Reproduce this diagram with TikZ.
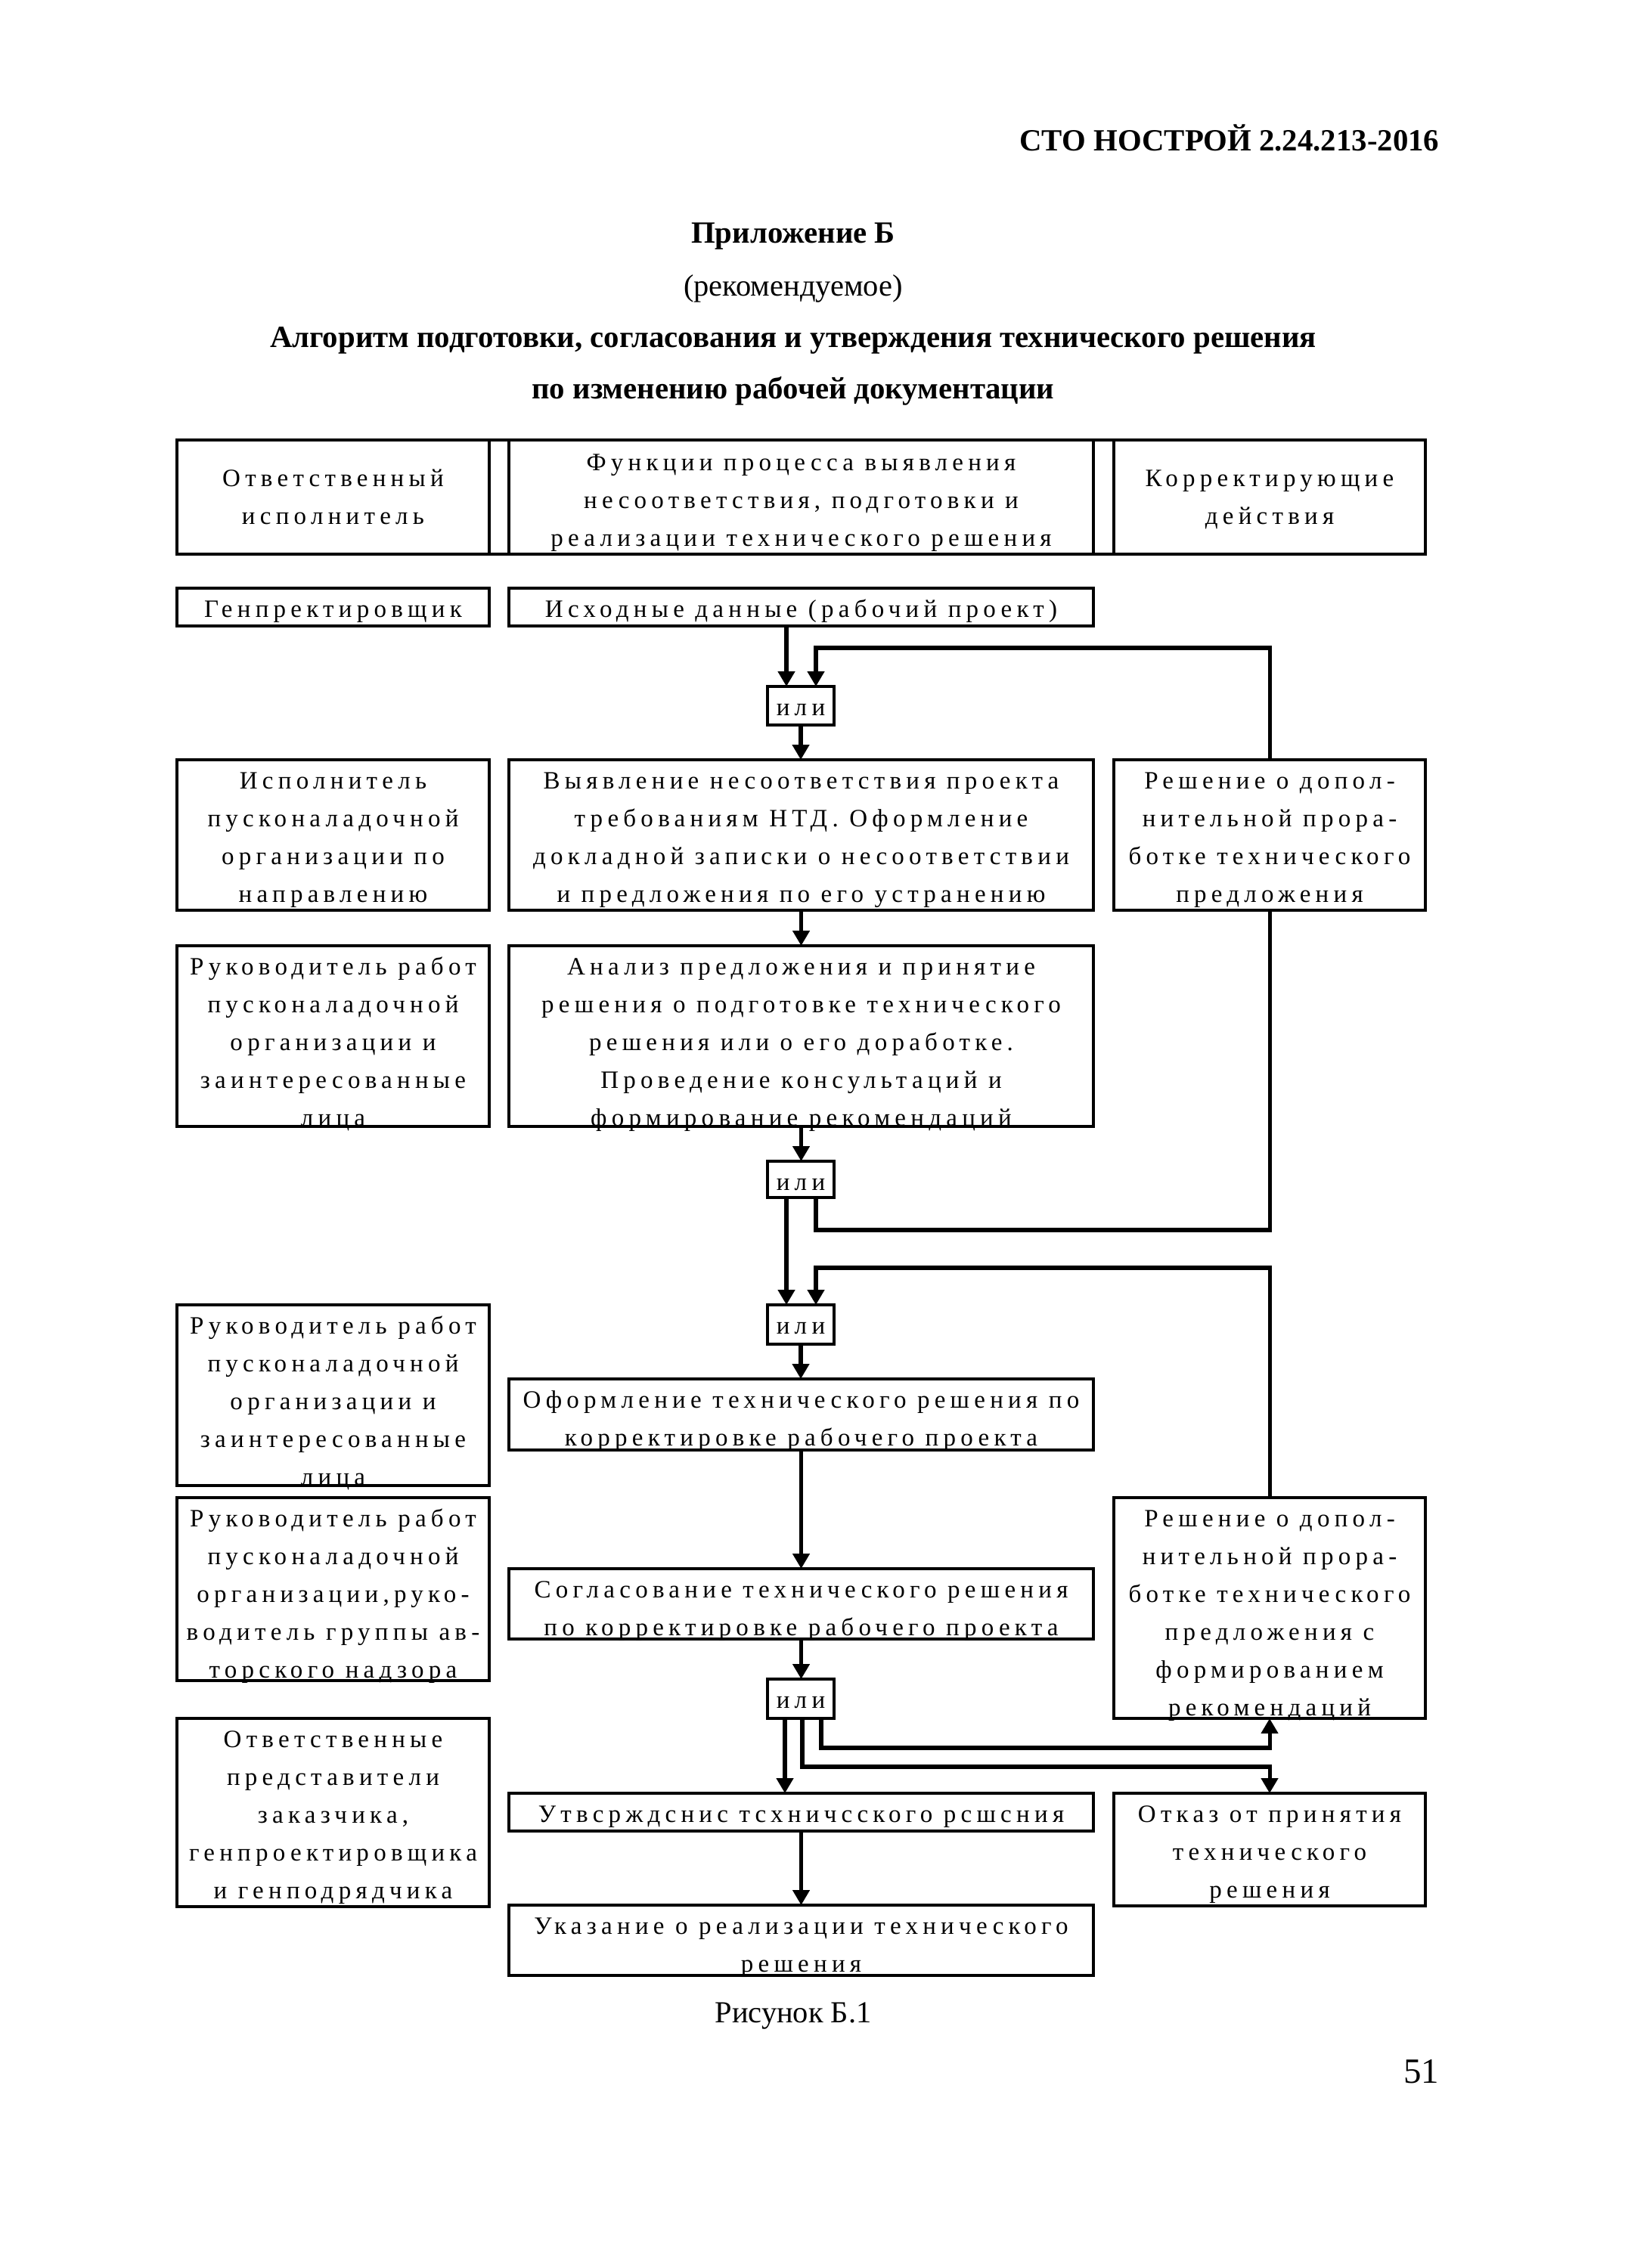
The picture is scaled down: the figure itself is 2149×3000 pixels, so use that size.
\documentclass[tikz,border=0pt]{standalone}
\usepackage{fontspec}
\setmainfont{Liberation Serif}
\newfontfamily\bxfont[LetterSpace=19]{Liberation Serif}
\usetikzlibrary{arrows.meta}
\newcommand\mkbox[5]{\node[bx, minimum width={(#4-#2)*0.277pt}, minimum height={(#5-#3)*0.277pt}] (#1) at ({(#2+#4)/2},{(#3+#5)/2}) {};}
\newcommand\mktext[3][38]{\node[btxt] at ([yshift={-(#1-26.4)*0.277pt}]#2.north) {\rule{0pt}{7.31pt}#3};}
\begin{document}
\begin{tikzpicture}[x=0.277pt,y=-0.277pt,
  bx/.style={draw,line width=0.9pt,inner sep=0pt,outer sep=0pt,rectangle},
  btxt/.style={inner sep=0pt,align=center,anchor=north,font=\bxfont\fontsize{9.14pt}{13.85pt}\selectfont},
  conn/.style={line width=1.4pt,line join=miter},
  arr/.style={conn,-{Triangle[length=5.5pt,width=6pt]}},
  ttl/.style={inner sep=0pt,anchor=base,font=\bfseries\fontsize{11.3pt}{13pt}\selectfont},
  rtl/.style={inner sep=0pt,anchor=base,font=\fontsize{11.2pt}{13pt}\selectfont}
]
\useasboundingbox (0,0) rectangle (2149,3000);
\fill[white] (0,0) rectangle (2149,3000);

% titles
\node[ttl,anchor=base east] (code) at (1904,200) {СТО НОСТРОЙ 2.24.213-2016};
\node[ttl] (app) at (1049,322) {Приложение Б};
\node[rtl] (rec) at (1049,392) {(рекомендуемое)};
\node[ttl] (t1) at (1049,460) {Алгоритм подготовки, согласования и утверждения технического решения};
\node[ttl] (t2) at (1049,528) {по изменению рабочей документации};
\node[rtl] (fig) at (1049,2675) {Рисунок Б.1};
\node[rtl,anchor=base east,font=\fontsize{13pt}{15pt}\selectfont] (pg) at (1904,2755) {51};

% boxes
\mkbox{hL}{234}{582}{647}{733}
\mkbox{hSa}{647}{582}{673}{733}
\mkbox{hM}{673}{582}{1446}{733}
\mkbox{hSb}{1446}{582}{1473}{733}
\mkbox{hR}{1473}{582}{1885}{733}
\mkbox{r0L}{234}{778}{647}{828}
\mkbox{r0M}{673}{778}{1446}{828}
\mkbox{ili1}{1015}{908}{1103}{959}
\mkbox{r1L}{234}{1005}{647}{1204}
\mkbox{r1M}{673}{1005}{1446}{1204}
\mkbox{r1R}{1473}{1005}{1885}{1204}
\mkbox{r2L}{234}{1251}{647}{1490}
\mkbox{r2M}{673}{1251}{1446}{1490}
\mkbox{ili2}{1015}{1536}{1103}{1584}
\mkbox{ili3}{1015}{1726}{1103}{1778}
\mkbox{r3L}{234}{1726}{647}{1965}
\mkbox{r3M}{673}{1824}{1446}{1918}
\mkbox{r4L}{234}{1981}{647}{2223}
\mkbox{r4M}{673}{2075}{1446}{2168}
\mkbox{r4R}{1473}{1981}{1885}{2273}
\mkbox{ili4}{1015}{2221}{1103}{2273}
\mkbox{r5L}{234}{2273}{647}{2522}
\mkbox{r5M}{673}{2372}{1446}{2422}
\mkbox{r5R}{1473}{2372}{1885}{2521}
\mkbox{r6M}{673}{2520}{1446}{2613}

% texts
\mktext[61]{hL}{Ответственный\\исполнитель}
\mktext[40]{hM}{Функции процесса выявления\\несоответствия, подготовки и\\реализации технического решения}
\mktext[61]{hR}{Корректирующие\\действия}
\mktext{r0L}{Генпректировщик}
\mktext{r0M}{Исходные данные (рабочий проект)}
\mktext{ili1}{или}
\mktext{r1L}{Исполнитель\\пусконаладочной\\организации по\\направлению}
\mktext{r1M}{Выявление несоответствия проекта\\требованиям НТД. Оформление\\докладной записки о несоответствии\\и предложения по его устранению}
\mktext{r1R}{Решение о допол-\\нительной прора-\\ботке технического\\предложения}
\mktext{r2L}{Руководитель работ\\пусконаладочной\\организации и\\заинтересованные\\лица}
\mktext{r2M}{Анализ предложения и принятие\\решения о подготовке технического\\решения или о его доработке.\\Проведение консультаций и\\формирование рекомендаций}
\mktext{ili2}{или}
\mktext{ili3}{или}
\mktext{r3L}{Руководитель работ\\пусконаладочной\\организации и\\заинтересованные\\лица}
\mktext{r3M}{Оформление технического решения по\\корректировке рабочего проекта}
\mktext{r4L}{Руководитель работ\\пусконаладочной\\организации,руко-\\водитель группы ав-\\торского надзора}
\mktext{r4M}{Согласование технического решения\\по корректировке рабочего проекта}
\mktext{r4R}{Решение о допол-\\нительной прора-\\ботке технического\\предложения с\\формированием\\рекомендаций}
\mktext{ili4}{или}
\mktext{r5L}{Ответственные\\представители\\заказчика,\\генпроектировщика\\и генподрядчика}
\mktext{r5M}{Утвсрждснис тсхничсского рсшсния}
\mktext{r5R}{Отказ от принятия\\технического\\решения}
\mktext{r6M}{Указание о реализации технического\\решения}

% helper coordinates
\coordinate (xL) at (1040,0);
\coordinate (xR) at (1079,0);
\coordinate (xa) at (1038,0);
\coordinate (xb) at (1061,0);
\coordinate (xc) at (1086,0);
\coordinate (yA) at (0,857);
\coordinate (yB) at (0,1627);
\coordinate (yC) at (0,1677);
\coordinate (yD) at (0,2312);
\coordinate (yE) at (0,2337);

% connectors
\draw[arr] (r0M.south -| xL) -- (ili1.north -| xL);
\draw[arr] (r1R.north) -- (r1R.north |- yA) -- (xR |- yA) -- (ili1.north -| xR);
\draw[arr] (ili1.south) -- (ili1.south |- r1M.north);
\draw[arr] (r1M.south) -- (r2M.north);
\draw[arr] (r2M.south) -- (r2M.south |- ili2.north);
\draw[arr] (ili2.south -| xL) -- (ili3.north -| xL);
\draw[conn] (ili2.south -| xR) -- (xR |- yB) -- (r1R.south |- yB) -- (r1R.south);
\draw[arr] (r4R.north) -- (r4R.north |- yC) -- (xR |- yC) -- (ili3.north -| xR);
\draw[arr] (ili3.south) -- (ili3.south |- r3M.north);
\draw[arr] (r3M.south) -- (r4M.north);
\draw[arr] (r4M.south) -- (r4M.south |- ili4.north);
\draw[arr] (ili4.south -| xa) -- (r5M.north -| xa);
\draw[arr] (ili4.south -| xb) -- (xb |- yE) -- (r5R.north |- yE) -- (r5R.north);
\draw[arr] (ili4.south -| xc) -- (xc |- yD) -- (r4R.south |- yD) -- (r4R.south);
\draw[arr] (r5M.south) -- (r6M.north);
\end{tikzpicture}
\end{document}
